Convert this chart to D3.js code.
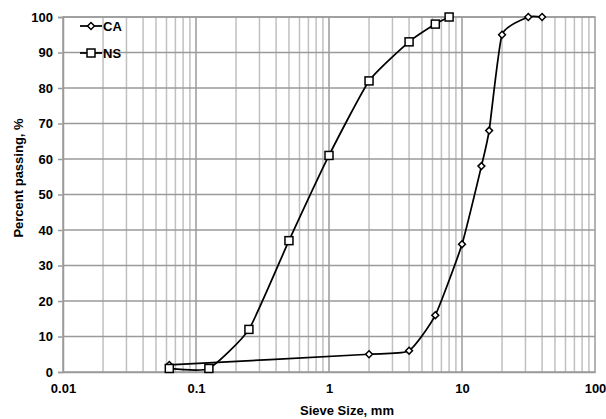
<!DOCTYPE html>
<html>
<head>
<meta charset="utf-8">
<script src="https://cdn.jsdelivr.net/npm/d3@7"></script>
<style>
body { margin: 0; background: #fff; }
text { font-family: Arial, "Liberation Sans", sans-serif; font-weight: bold; }
</style>
</head>
<body>
<div class="chart"></div>
<script>
var caSize = [0.063, 2, 4, 6.3, 10, 14, 16, 20, 31.5, 40];
var caPass = [2, 5, 6, 16, 36, 58, 68, 95, 100, 100];
var nsSize = [0.063, 0.125, 0.25, 0.5, 1, 2, 4, 6.3, 8];
var nsPass = [1, 1, 12, 37, 61, 82, 93, 98, 100];
var xTicks = [0.01, 0.1, 1, 10, 100];
var yTicks = [0, 10, 20, 30, 40, 50, 60, 70, 80, 90, 100];

var w = 606;
var h = 419;
var plotL = 63, plotR = 595, plotT = 17, plotB = 372;

var xScale = d3.scaleLog()
                .domain([0.01, 100])
                .range([plotL, plotR]);

var yScale = d3.scaleLinear()
                .domain([0, 100])
                .range([plotB, plotT]);

var svg = d3.select(".chart")
            .append("svg")
            .attr("width", w)
            .attr("height", h);

//minor gridlines at 2..9 of each decade
var minor = [];
[0.01, 0.1, 1, 10].forEach(function(d){
    for(var k = 2; k <= 9; k++){
        minor.push(d * k);
    }
});

svg.selectAll(".minor")
    .data(minor)
    .enter()
    .append("line")
    .attr("x1", function(d){ return xScale(d); })
    .attr("x2", function(d){ return xScale(d); })
    .attr("y1", plotT)
    .attr("y2", plotB)
    .attr("stroke", "#c0c0c0")
    .attr("stroke-width", 1.5);

svg.selectAll(".major")
    .data(xTicks.slice(1, 4))
    .enter()
    .append("line")
    .attr("x1", function(d){ return xScale(d); })
    .attr("x2", function(d){ return xScale(d); })
    .attr("y1", plotT)
    .attr("y2", plotB)
    .attr("stroke", "#9a9a9a")
    .attr("stroke-width", 1.5);

svg.selectAll(".hgrid")
    .data(yTicks.slice(1))
    .enter()
    .append("line")
    .attr("x1", plotL)
    .attr("x2", plotR)
    .attr("y1", function(d){ return yScale(d); })
    .attr("y2", function(d){ return yScale(d); })
    .attr("stroke", "#9a9a9a")
    .attr("stroke-width", 1.5);

//plot border
svg.append("rect")
    .attr("x", plotL)
    .attr("y", plotT)
    .attr("width", plotR - plotL)
    .attr("height", plotB - plotT)
    .attr("fill", "none")
    .attr("stroke", "#9a9a9a")
    .attr("stroke-width", 1.5);

//axes
var yAxis = d3.axisLeft(yScale)
              .tickValues(yTicks)
              .tickSize(5)
              .tickPadding(5);

svg.append("g")
    .attr("transform", "translate(" + plotL + ",0)")
    .call(yAxis)
    .call(function(g){
        g.select(".domain").attr("stroke", "#9a9a9a").attr("stroke-width", 1.5);
        g.selectAll(".tick line").attr("stroke", "#9a9a9a").attr("stroke-width", 1.5);
        g.selectAll("text").style("font-size", "13px").attr("fill", "#000");
    });

var xAxis = d3.axisBottom(xScale)
              .tickValues(xTicks)
              .tickFormat(function(d){ return String(d); })
              .tickSize(0)
              .tickPadding(12);

svg.append("g")
    .attr("transform", "translate(0," + plotB + ")")
    .call(xAxis)
    .call(function(g){
        g.select(".domain").attr("stroke", "#9a9a9a").attr("stroke-width", 1.5);
        g.selectAll("text").style("font-size", "13px").attr("fill", "#000");
    });

//axis titles
svg.append("text")
    .attr("x", 347)
    .attr("y", 415)
    .attr("text-anchor", "middle")
    .style("font-size", "13px")
    .text("Sieve Size, mm");

svg.append("text")
    .attr("transform", "translate(23,178) rotate(-90)")
    .attr("text-anchor", "middle")
    .style("font-size", "13px")
    .text("Percent passing, %");

var line = d3.line()
              .x(function(d){ return xScale(d[0]); })
              .y(function(d){ return yScale(d[1]); })
              .curve(d3.curveCardinal.tension(0.5));

var caData = caSize.map(function(d, i){ return [d, caPass[i]]; });
var nsData = nsSize.map(function(d, i){ return [d, nsPass[i]]; });

svg.append("path")
    .datum(caData)
    .attr("d", line)
    .attr("fill", "none")
    .attr("stroke", "#000")
    .attr("stroke-width", 1.75);

svg.append("path")
    .datum(nsData)
    .attr("d", line)
    .attr("fill", "none")
    .attr("stroke", "#000")
    .attr("stroke-width", 1.75);

var diamond = d3.symbol().type(d3.symbolDiamond2).size(30);

svg.selectAll(".ca")
    .data(caData)
    .enter()
    .append("path")
    .attr("d", diamond)
    .attr("transform", function(d){
        return "translate(" + xScale(d[0]) + "," + yScale(d[1]) + ")";
    })
    .attr("fill", "#fff")
    .attr("stroke", "#000")
    .attr("stroke-width", 1.5);

svg.selectAll(".ns")
    .data(nsData)
    .enter()
    .append("rect")
    .attr("x", function(d){ return xScale(d[0]) - 4; })
    .attr("y", function(d){ return yScale(d[1]) - 4; })
    .attr("width", 8)
    .attr("height", 8)
    .attr("fill", "#fff")
    .attr("stroke", "#000")
    .attr("stroke-width", 1.5);

//legend
var legend = svg.append("g");

legend.append("line")
    .attr("x1", 80).attr("x2", 102)
    .attr("y1", 26).attr("y2", 26)
    .attr("stroke", "#000").attr("stroke-width", 1.75);
legend.append("path")
    .attr("d", diamond)
    .attr("transform", "translate(91,26)")
    .attr("fill", "#fff").attr("stroke", "#000").attr("stroke-width", 1.5);
legend.append("text")
    .attr("x", 103).attr("y", 31)
    .style("font-size", "13px")
    .text("CA");

legend.append("line")
    .attr("x1", 80).attr("x2", 102)
    .attr("y1", 53).attr("y2", 53)
    .attr("stroke", "#000").attr("stroke-width", 1.75);
legend.append("rect")
    .attr("x", 87).attr("y", 49)
    .attr("width", 8).attr("height", 8)
    .attr("fill", "#fff").attr("stroke", "#000").attr("stroke-width", 1.5);
legend.append("text")
    .attr("x", 103).attr("y", 58)
    .style("font-size", "13px")
    .text("NS");
</script>
</body>
</html>
